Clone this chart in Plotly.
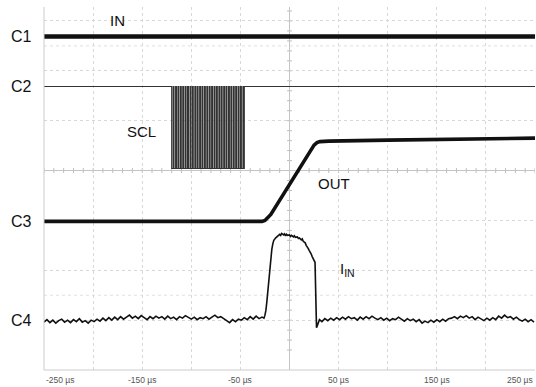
import plotly.graph_objects as go

# ---------------- data (time in µs, level in divisions) ----------------
c1_t = [-250, 250]
c1_v = [2.69, 2.69]

c2_high = 1.685
c2_low = 0.04
c2_burst_start = -120
c2_burst_end = -46
scl_pulse_start = [-118.5, -116.0, -113.6, -111.1, -108.7, -106.2, -103.8, -101.3, -98.9, -96.4,
                   -94.0, -91.5, -89.1, -86.6, -84.2, -81.7, -79.3, -76.8, -74.4, -71.9,
                   -69.5, -67.0, -64.6, -62.1, -59.7, -57.2, -54.8, -52.3, -49.9, -47.4]
scl_pulse_end = [-117.6, -115.1, -112.7, -110.2, -107.8, -105.3, -102.9, -100.4, -98.0, -95.5,
                 -93.1, -90.6, -88.2, -85.7, -83.3, -80.8, -78.4, -75.9, -73.5, -71.0,
                 -68.6, -66.1, -63.7, -61.2, -58.8, -56.3, -53.9, -51.4, -49.0, -46.5]

c3_t = [-250, -28, -25, -22, -19, 25, 28, 31, 40, 100, 180, 250]
c3_v = [-1.02, -1.02, -1.00, -0.95, -0.88, 0.51, 0.56, 0.58, 0.59, 0.61, 0.63, 0.65]

c4_pre_t = list(range(-250, -27, 3))
c4_pre_v = [-3.04, -2.99, -3.05, -3.00, -3.06, -3.01, -2.98, -3.04, -3.00, -3.05,
            -2.99, -3.03, -2.97, -3.04, -3.01, -3.06, -3.00, -3.03, -2.98, -3.02,
            -2.96, -3.01, -2.95, -3.00, -2.94, -2.99, -2.93, -2.98, -2.94, -2.90,
            -2.96, -2.92, -2.97, -2.91, -2.95, -2.99, -2.93, -2.97, -2.92, -2.96,
            -2.93, -2.98, -2.92, -2.97, -2.94, -2.99, -2.93, -2.96, -2.91, -2.95,
            -2.98, -2.94, -2.99, -2.95, -2.97, -2.93, -2.98, -2.94, -2.90, -2.95,
            -2.93, -2.97, -3.01, -3.05, -2.99, -3.03, -2.98, -3.00, -2.95, -2.99,
            -2.93, -2.98, -2.92, -2.97, -2.94]
c4_pulse_t = [-26, -25, -24, -23, -22, -21, -20, -19, -18, -17, -16, -14, -12, -10, -9, -8, -6, -5,
              -4, -3, -2, 0, 1, 2, 4, 5, 6, 8, 9, 10, 12, 13, 14, 16, 17, 18, 19, 20, 21, 22, 23,
              24, 25, 26, 26.5, 27, 27.5, 28.5, 29.5, 30.5]
c4_pulse_v = [-2.96, -2.90, -2.80, -2.62, -2.40, -2.15, -1.92, -1.72, -1.58, -1.47, -1.40, -1.35,
              -1.31, -1.28, -1.30, -1.26, -1.29, -1.27, -1.31, -1.28, -1.30, -1.29, -1.32, -1.30,
              -1.33, -1.31, -1.34, -1.33, -1.36, -1.35, -1.39, -1.37, -1.42, -1.45, -1.50, -1.52,
              -1.56, -1.60, -1.63, -1.67, -1.72, -1.75, -1.80, -1.84, -2.30, -2.90, -3.15, -3.10,
              -3.05, -2.99]
c4_post_t = list(range(33, 250, 3))
c4_post_v = [-3.03, -2.97, -3.01, -2.96, -3.00, -2.95, -2.99, -2.94, -2.98, -2.93,
             -2.97, -2.95, -3.00, -2.94, -2.98, -2.93, -2.97, -2.92, -2.96, -2.99,
             -2.95, -3.00, -2.96, -3.01, -2.97, -2.99, -2.94, -2.98, -3.02, -2.97,
             -3.01, -2.98, -3.03, -2.99, -3.06, -3.02, -3.05, -3.00, -3.04, -2.99,
             -3.03, -2.98, -3.02, -2.97, -2.96, -2.93, -2.97, -2.92, -2.95, -2.91,
             -2.96, -2.93, -2.99, -2.94, -2.98, -3.01, -2.96, -3.00, -2.95, -2.99,
             -2.92, -2.96, -2.90, -2.95, -2.93, -2.98, -2.94, -2.99, -3.02, -2.98,
             -3.03, -2.99, -3.04]

channel_names = ["C1", "C2", "C3", "C4"]
channel_levels = [2.69, 1.685, -1.02, -3.0]

trace_labels = ["IN", "SCL", "OUT", "I<sub>IN</sub>"]
trace_label_t = [-175.6, -151.2, 45.3, 59.0]
trace_label_v = [3.01, 0.78, -0.26, -1.99]

tick_vals = [-250, -150, -50, 50, 150, 250]
tick_text = ["-250 µs", "-150 µs", "-50 µs", "50 µs", "150 µs", "250 µs"]
trigger_t = [0]

# ---------------- build C2 ----------------
c2_t = [-250, c2_burst_start, c2_burst_start]
c2_v = [c2_high, c2_high, c2_low]
for s, e in zip(scl_pulse_start, scl_pulse_end):
    c2_t += [s, s, e, e]
    c2_v += [c2_low, c2_high, c2_high, c2_low]
c2_t += [c2_burst_end, c2_burst_end, 250]
c2_v += [c2_low, c2_high, c2_high]

c4_t = c4_pre_t + c4_pulse_t + c4_post_t
c4_v = c4_pre_v + c4_pulse_v + c4_post_v

FONT = "Arial, Liberation Sans, sans-serif"

fig = go.Figure()
fig.add_trace(go.Scatter(x=c1_t, y=c1_v, mode="lines", line=dict(color="#111111", width=4.5)))
fig.add_trace(go.Scatter(x=c2_t, y=c2_v, mode="lines", line=dict(color="#333333", width=1.1)))
fig.add_trace(go.Scatter(x=c3_t, y=c3_v, mode="lines", line=dict(color="#111111", width=3.6)))
fig.add_trace(go.Scatter(x=c4_t, y=c4_v, mode="lines", line=dict(color="#111111", width=1.6)))
fig.add_trace(go.Scatter(x=trigger_t, y=[-4.07], mode="markers", cliponaxis=False,
                         marker=dict(symbol="triangle-up", size=7, color="#111111")))

shapes = []
grid_col = "#d8d8d8"
# faint dotted lines at ±2.5 div
for yv in (2.5, -2.5):
    shapes.append(dict(type="line", xref="x", yref="y", x0=-250, x1=250, y0=yv, y1=yv,
                       line=dict(color="#e0e0e0", width=1, dash="dot"), layer="below"))
# centre cross minor ticks
for i in range(-18, 17):
    yv = i * 0.2
    shapes.append(dict(type="line", xref="x", yref="y", x0=-2.5, x1=2.5, y0=yv, y1=yv,
                       line=dict(color="#bdbdbd", width=1), layer="below"))
for i in range(-25, 26):
    xv = i * 10
    shapes.append(dict(type="line", xref="x", yref="y", x0=xv, x1=xv, y0=-0.05, y1=0.05,
                       line=dict(color="#bdbdbd", width=1), layer="below"))

annotations = []
for name, lvl in zip(channel_names, channel_levels):
    annotations.append(dict(xref="paper", yref="y", x=0, y=lvl, text=name, showarrow=False,
                            xanchor="right", yanchor="middle", xshift=-10,
                            font=dict(family=FONT, size=16, color="#111111")))
for txt, tx, ty in zip(trace_labels, trace_label_t, trace_label_v):
    annotations.append(dict(xref="x", yref="y", x=tx, y=ty, text=txt, showarrow=False,
                            xanchor="center", yanchor="middle",
                            font=dict(family=FONT, size=15, color="#111111")))
for i, (tv, tt) in enumerate(zip(tick_vals, tick_text)):
    anchor = "left" if i == 0 else ("right" if i == len(tick_vals) - 1 else "center")
    annotations.append(dict(xref="x", yref="paper", x=tv, y=0, text=tt, showarrow=False,
                            xanchor=anchor, yanchor="top", yshift=-3,
                            font=dict(family=FONT, size=8.5, color="#555555")))

fig.update_layout(
    width=536, height=387,
    margin=dict(l=44, r=1, t=7, b=17),
    paper_bgcolor="white", plot_bgcolor="white",
    showlegend=False,
    shapes=shapes, annotations=annotations,
    xaxis=dict(range=[-250, 250], tick0=-250, dtick=50, showticklabels=False, ticks="",
               showgrid=True, gridcolor=grid_col, griddash="dot", gridwidth=1,
               zeroline=True, zerolinecolor="#c4c4c4", zerolinewidth=1,
               showline=False, fixedrange=True),
    yaxis=dict(range=[-4, 3.28], tick0=0, dtick=1, showticklabels=False, ticks="",
               showgrid=True, gridcolor=grid_col, griddash="dot", gridwidth=1,
               zeroline=True, zerolinecolor="#c4c4c4", zerolinewidth=1,
               showline=False, fixedrange=True),
)
# left and bottom borders
fig.add_shape(type="line", xref="paper", yref="paper", x0=0, x1=0, y0=0, y1=1,
              line=dict(color="#cccccc", width=1))
fig.add_shape(type="line", xref="paper", yref="paper", x0=0, x1=1, y0=0, y1=0,
              line=dict(color="#cccccc", width=1))

fig.write_html("out.html")
